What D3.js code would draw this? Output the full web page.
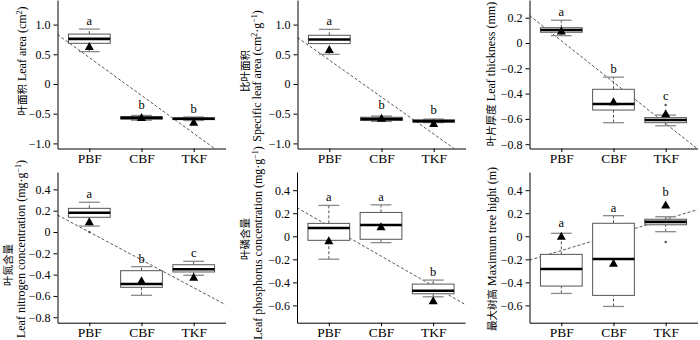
<!DOCTYPE html>
<html>
<head>
<meta charset="utf-8">
<script src="https://cdn.jsdelivr.net/npm/d3@7"></script>
<style>
  body { margin: 0; background: #fff; }
  text { font-family: "Liberation Serif", "Noto Sans CJK SC", serif; fill: #000; }
</style>
</head>
<body>
<script>
var sites = ["PBF", "CBF", "TKF"];

// box summaries per site: [lower whisker, Q1, median, Q3, upper whisker]
var leafAreaBox = [[0.545, 0.685, 0.76, 0.84, 0.925], [-0.61, -0.59, -0.57, -0.55, -0.53], [-0.615, -0.60, -0.585, -0.57, -0.555]];
var leafAreaMean = [0.63, -0.565, -0.645];
var leafAreaLetters = ["a", "b", "b"];
var leafAreaOut = [[], [], []];

var slaBox = [[0.50, 0.68, 0.75, 0.82, 0.92], [-0.63, -0.615, -0.59, -0.56, -0.54], [-0.65, -0.64, -0.625, -0.605, -0.59]];
var slaMean = [0.58, -0.575, -0.665];
var slaLetters = ["a", "b", "b"];
var slaOut = [[], [], []];

var thickBox = [[0.058, 0.085, 0.103, 0.121, 0.18], [-0.63, -0.53, -0.482, -0.366, -0.27], [-0.654, -0.63, -0.609, -0.59, -0.57]];
var thickMean = [0.095, -0.464, -0.56];
var thickLetters = ["a", "b", "c"];
var thickOut = [[], [], [-0.49]];

var nitroBox = [[0.056, 0.138, 0.181, 0.222, 0.279], [-0.594, -0.519, -0.488, -0.363, -0.325], [-0.406, -0.375, -0.35, -0.307, -0.275]];
var nitroMean = [0.097, -0.457, -0.425];
var nitroLetters = ["a", "b", "c"];
var nitroOut = [[0.0], [], []];

var phosBox = [[-0.199, -0.035, 0.072, 0.112, 0.268], [-0.055, -0.026, 0.098, 0.207, 0.273], [-0.525, -0.499, -0.473, -0.415, -0.38]];
var phosMean = [-0.038, 0.083, -0.559];
var phosLetters = ["a", "a", "b"];
var phosOut = [[], [], []];

var heightBox = [[-0.496, -0.432, -0.284, -0.157, 0.026], [-0.609, -0.513, -0.197, 0.113, 0.179], [0.04, 0.10, 0.125, 0.148, 0.17]];
var heightMean = [0.0, -0.235, 0.272];
var heightLetters = ["a", "a", "b"];
var heightOut = [[], [], [-0.05]];

var ticksLarge = [-1, -0.5, 0, 0.5, 1];
var ticksSmall = [-0.8, -0.6, -0.4, -0.2, 0, 0.2, 0.4];

// axis titles: each line is a list of [text, kind] pieces, kind is "cjk", "sup" or ""
var panels = [
  { left: 57.5, top: 0, bottom: 148.5, ydom: [-1.086, 1.414], ticks: ticksLarge,
    box: leafAreaBox, mean: leafAreaMean, letters: leafAreaLetters, out: leafAreaOut,
    title: [{ x: 22, y: 61, parts: [["叶面积", "cjk"], [" Leaf area (cm", ""], ["2", "sup"], [")", ""]] }] },
  { left: 297.5, top: 0, bottom: 148.5, ydom: [-1.086, 1.414], ticks: ticksLarge,
    box: slaBox, mean: slaMean, letters: slaLetters, out: slaOut,
    title: [{ x: 245, y: 71, parts: [["比叶面积", "cjk"]] },
            { x: 257, y: 76, parts: [["Specific leaf area (cm", ""], ["2", "sup"], ["·g", ""], ["−1", "sup"], [")", ""]] }] },
  { left: 529.5, top: 0, bottom: 148.5, ydom: [-0.834, 0.34], ticks: ticksSmall,
    box: thickBox, mean: thickMean, letters: thickLetters, out: thickOut,
    title: [{ x: 491, y: 74, parts: [["叶片厚度", "cjk"], [" Leaf thickness (mm)", ""]] }] },
  { left: 57.5, top: 172, bottom: 322.7, ydom: [-0.851, 0.563], ticks: ticksSmall,
    box: nitroBox, mean: nitroMean, letters: nitroLetters, out: nitroOut,
    title: [{ x: 8, y: 265, parts: [["叶氮含量", "cjk"]] },
            { x: 21, y: 249, parts: [["Leaf nitrogen concentration (mg·g", ""], ["−1", "sup"], [")", ""]] }] },
  { left: 297, top: 172, bottom: 322.7, ydom: [-0.75, 0.558], ticks: ticksSmall,
    box: phosBox, mean: phosMean, letters: phosLetters, out: phosOut,
    title: [{ x: 245, y: 239, parts: [["叶磷含量", "cjk"]] },
            { x: 258, y: 243, parts: [["Leaf phosphorus concentration (mg·g", ""], ["−1", "sup"], [")", ""]] }] },
  { left: 529.5, top: 172, bottom: 322.7, ydom: [-0.75, 0.558], ticks: ticksSmall,
    box: heightBox, mean: heightMean, letters: heightLetters, out: heightOut,
    title: [{ x: 492, y: 249, parts: [["最大树高", "cjk"], [" Maximum tree hight (m)", ""]] }] }
];

var svg = d3.select("body").append("svg")
    .attr("width", 700)
    .attr("height", 340);

var plotW = 168;
var x = d3.scaleLinear().domain([0.39, 3.61]).range([0, plotW]);
var unit = x(2) - x(1);
var boxW = 0.8 * unit, capW = 0.4 * unit;

function fmtTick(d) {
    if (d === 0) return "0";
    return d3.format(".1f")(d);
}

// least squares line through the site means
function fitLine(ys) {
    var xs = [1, 2, 3];
    var mx = d3.mean(xs), my = d3.mean(ys);
    var sxy = d3.sum(xs, function(v, i) { return (v - mx) * (ys[i] - my); });
    var sxx = d3.sum(xs, function(v) { return (v - mx) * (v - mx); });
    var b = sxy / sxx;
    return { a: my - b * mx, b: b };
}

panels.forEach(function(p, pi) {
    var y = d3.scaleLinear().domain(p.ydom).range([p.bottom, p.top]);
    var g = svg.append("g").attr("transform", "translate(" + p.left + ",0)");

    g.append("clipPath").attr("id", "clip" + pi)
      .append("rect")
        .attr("x", 0).attr("y", p.top)
        .attr("width", plotW).attr("height", p.bottom - p.top);

    // dashed trend line
    var fit = fitLine(p.mean);
    var x0 = x.domain()[0], x1 = x.domain()[1];
    g.append("line")
        .attr("clip-path", "url(#clip" + pi + ")")
        .attr("x1", x(x0)).attr("y1", y(fit.a + fit.b * x0))
        .attr("x2", x(x1)).attr("y2", y(fit.a + fit.b * x1))
        .attr("stroke", "#444")
        .attr("stroke-width", 0.9)
        .attr("stroke-dasharray", "3,2");

    var boxes = g.selectAll(".site")
        .data(sites)
        .enter()
        .append("g")
        .attr("class", "site")
        .attr("transform", function(d, i) { return "translate(" + x(i + 1) + ",0)"; });

    boxes.each(function(d, i) {
        var s = p.box[i];
        var b = d3.select(this);
        // whiskers
        b.append("line")
            .attr("x1", 0).attr("x2", 0)
            .attr("y1", y(s[0])).attr("y2", y(s[1]))
            .attr("stroke", "#555").attr("stroke-dasharray", "3,2");
        b.append("line")
            .attr("x1", 0).attr("x2", 0)
            .attr("y1", y(s[3])).attr("y2", y(s[4]))
            .attr("stroke", "#555").attr("stroke-dasharray", "3,2");
        [s[0], s[4]].forEach(function(v) {
            b.append("line")
                .attr("x1", -capW / 2).attr("x2", capW / 2)
                .attr("y1", y(v)).attr("y2", y(v))
                .attr("stroke", "#8a8a8a").attr("stroke-width", 1.3);
        });
        b.append("rect")
            .attr("x", -boxW / 2).attr("width", boxW)
            .attr("y", y(s[3])).attr("height", y(s[1]) - y(s[3]))
            .attr("fill", "#fff")
            .attr("stroke", "#555").attr("stroke-width", 1);
        b.append("line")
            .attr("x1", -boxW / 2).attr("x2", boxW / 2)
            .attr("y1", y(s[2])).attr("y2", y(s[2]))
            .attr("stroke", "#000").attr("stroke-width", 2.6);

        p.out[i].forEach(function(v) {
            b.append("circle")
                .attr("cx", 0).attr("cy", y(v)).attr("r", 1.2)
                .attr("fill", "#555");
        });

        // mean marker
        var my = y(p.mean[i]);
        b.append("path")
            .attr("d", "M-4.5," + (my + 3.5) + "L4.5," + (my + 3.5) + "L0," + (my - 4.5) + "Z")
            .attr("fill", "#000");

        // significance letter above the highest mark
        var topY = Math.min(y(s[4]), my - 5);
        p.out[i].forEach(function(v) { topY = Math.min(topY, y(v) - 1); });
        b.append("text")
            .attr("x", 0).attr("y", topY - 4)
            .attr("text-anchor", "middle")
            .attr("font-size", "12.5px")
            .attr("font-family", "Liberation Serif")
            .attr("fill", "#000")
            .text(p.letters[i]);
    });

    var yAxis = d3.axisLeft(y)
        .tickValues(p.ticks.filter(function(t) { return t >= p.ydom[0] && t <= p.ydom[1]; }))
        .tickFormat(fmtTick)
        .tickSize(4)
        .tickSizeOuter(0)
        .tickPadding(3);
    var ya = g.append("g").call(yAxis);
    ya.selectAll("text").attr("font-size", "12px").attr("font-family", "Liberation Serif").attr("fill", "#000");

    var xAxis = d3.axisBottom(x)
        .tickValues([1, 2, 3])
        .tickFormat(function(d) { return sites[d - 1]; })
        .tickSize(3.5)
        .tickSizeOuter(0)
        .tickPadding(1.5);
    var xa = g.append("g").attr("transform", "translate(0," + p.bottom + ")").call(xAxis);
    xa.selectAll("text").attr("font-size", "13.5px").attr("font-family", "Liberation Serif").attr("fill", "#000");

    // axis titles
    p.title.forEach(function(t) {
        var txt = svg.append("text")
            .attr("transform", "translate(" + (t.x + 4) + "," + t.y + ") rotate(-90)")
            .attr("text-anchor", "middle")
            .attr("font-size", "12px")
            .attr("fill", "#000");
        var shifted = false;
        t.parts.forEach(function(part) {
            var ts = txt.append("tspan").text(part[0]);
            if (part[1] === "sup") {
                ts.attr("font-size", "8px").attr("dy", shifted ? 0 : -4);
                shifted = true;
            } else {
                if (part[1] === "cjk") ts.attr("font-size", "10.5px");
                if (shifted) {
                    ts.attr("dy", 4);
                    shifted = false;
                }
            }
        });
    });
});
</script>
</body>
</html>
